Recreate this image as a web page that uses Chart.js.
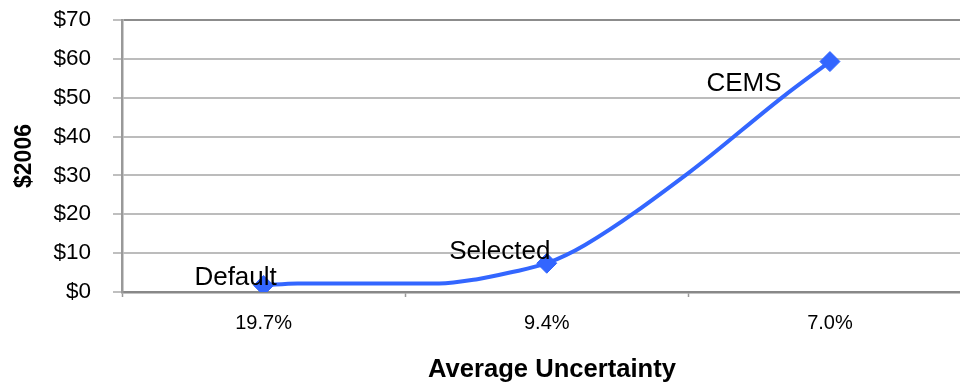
<!DOCTYPE html>
<html>
<head>
<meta charset="utf-8">
<script src="https://cdn.jsdelivr.net/npm/chart.js@4/dist/chart.umd.min.js"></script>
<style>
  html, body { margin: 0; padding: 0; overflow: hidden; background: #fff; }
  #chart { display: block; }
</style>
</head>
<body>
<canvas id="chart" width="993" height="383"></canvas>
<script>
// Category axis labels (average uncertainty of each monitoring option)
const categories = ['19.7%', '9.4%', '7.0%'];
// Names of the three monitoring options, one per category
const optionNames = ['Default', 'Selected', 'CEMS'];
// Cost curve: position along the category axis and cost in $2006
const curveX = [0, 0.12, 0.62, 0.755, 0.87, 1, 1.135, 1.5, 1.835, 2];
const curveCost = [1.7, 2.2, 2.2, 3.3, 5.0, 7.4, 12.1, 30.6, 50.3, 59.3];
// Value axis ticks
const costTicks = [0, 10, 20, 30, 40, 50, 60, 70];

const FONT = "'Liberation Sans', Arial, Helvetica, sans-serif";
const BLUE = '#3366ff';

const points = curveX.map((x, i) => ({ x: x, y: curveCost[i] }));
const isOption = (v) => Number.isInteger(v);

// Writes the option name next to each marked point
const optionLabels = {
  id: 'optionLabels',
  afterDatasetsDraw(chart, args, opts) {
    const meta = chart.getDatasetMeta(0);
    const ctx = chart.ctx;
    ctx.save();
    ctx.font = opts.font;
    ctx.fillStyle = opts.color;
    ctx.textAlign = 'center';
    ctx.textBaseline = 'middle';
    meta.data.forEach((el, i) => {
      const xv = curveX[i];
      if (!isOption(xv)) return;
      const off = opts.offsets[xv];
      ctx.fillText(optionNames[xv], el.x + off[0], el.y + off[1]);
    });
    ctx.restore();
  }
};

new Chart(document.getElementById('chart'), {
  type: 'line',
  data: {
    datasets: [{
      data: points,
      borderColor: BLUE,
      backgroundColor: BLUE,
      borderWidth: 4,
      cubicInterpolationMode: 'monotone',
      fill: false,
      pointStyle: 'rectRot',
      pointRadius: (c) => isOption(curveX[c.dataIndex]) ? 10 : 0,
      pointHoverRadius: (c) => isOption(curveX[c.dataIndex]) ? 10 : 0,
      pointBorderWidth: 1,
      pointBackgroundColor: BLUE,
      pointBorderColor: BLUE
    }]
  },
  options: {
    responsive: false,
    maintainAspectRatio: false,
    animation: false,
    events: [],
    layout: { padding: { top: 20, left: 0, right: 0, bottom: 0 } },
    plugins: {
      legend: { display: false },
      tooltip: { enabled: false },
      optionLabels: {
        font: '26px ' + FONT,
        color: '#000',
        offsets: [[-28, -8], [-47, -11], [-86, 22]]
      }
    },
    scales: {
      x: {
        type: 'linear',
        min: -0.5,
        max: 2.537,
        afterBuildTicks: (scale) => {
          scale.ticks = [-0.5, 0, 0.5, 1, 1.5, 2, 2.5].map(v => ({ value: v }));
        },
        afterFit: (scale) => {
          scale.height = 91;
          scale.paddingLeft = 0;
          scale.paddingRight = 0;
        },
        ticks: {
          autoSkip: false,
          maxRotation: 0,
          padding: 14,
          color: '#000',
          font: { family: FONT, size: 20 },
          callback: (v) => isOption(v) ? categories[v] : ''
        },
        grid: {
          drawOnChartArea: false,
          drawTicks: true,
          tickLength: 5,
          tickWidth: 1.5,
          tickColor: (c) => (c.tick && isOption(c.tick.value)) ? 'rgba(0,0,0,0)' : '#999999'
        },
        border: { display: true, color: '#888888', width: 2.5 },
        title: {
          display: true,
          text: 'Average Uncertainty',
          color: '#000',
          font: { family: FONT, size: 25.6, weight: 'bold', lineHeight: 1 },
          padding: { top: 0, bottom: 0 }
        }
      },
      y: {
        min: 0,
        max: 70,
        afterBuildTicks: (scale) => {
          scale.ticks = costTicks.map(v => ({ value: v }));
        },
        afterFit: (scale) => {
          scale.width = 122;
          scale.paddingTop = 0;
          scale.paddingBottom = 0;
        },
        ticks: {
          padding: 22,
          color: '#000',
          font: { family: FONT, size: 22.5 },
          callback: (v) => '$' + v
        },
        grid: {
          color: (c) => (c.tick && c.tick.value === 70) ? '#8c8c8c' : '#bcbcbc',
          lineWidth: 2,
          tickLength: 9,
          tickColor: '#aaaaaa',
          tickWidth: 1.5
        },
        border: { display: true, color: '#999999', width: 2.5 },
        title: {
          display: true,
          text: '$2006',
          color: '#000',
          font: { family: FONT, size: 23, weight: 'bold' },
          padding: { top: 11, bottom: 0 }
        }
      }
    }
  },
  plugins: [optionLabels]
});
</script>
</body>
</html>
